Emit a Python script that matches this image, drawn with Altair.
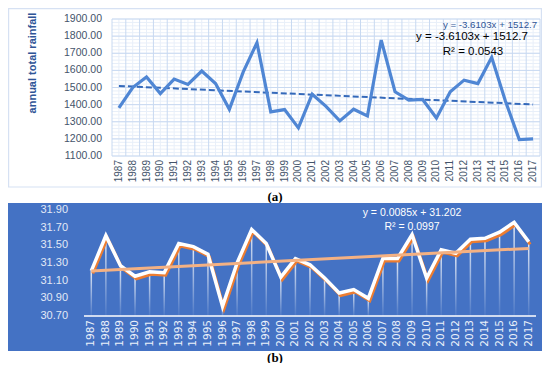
import altair as alt
import pandas as pd

years = list(range(1987, 2018))
rainfall = [1381, 1500, 1562, 1465, 1549, 1518, 1596, 1523, 1373, 1590, 1761,
            1358, 1371, 1264, 1461, 1390, 1305, 1373, 1334, 1777, 1475, 1426,
            1430, 1322, 1475, 1543, 1523, 1676, 1420, 1196, 1200]
temperature = [31.21, 31.61, 31.27, 31.15, 31.20, 31.19, 31.52, 31.485, 31.40,
               30.81, 31.30, 31.68, 31.52, 31.14, 31.35, 31.28, 31.13, 30.96,
               31.00, 30.90, 31.35, 31.35, 31.62, 31.13, 31.45, 31.41, 31.57,
               31.58, 31.65, 31.76, 31.54]
trend_years = [1987, 2017]
trend_a = [1509.09, 1400.78]   # y = -3.6103x + 1512.7 at x=1 and x=31
trend_b = [31.2105, 31.4655]   # y = 0.0085x + 31.202 at x=1 and x=31
rain_ticks = list(range(1100, 1901, 100))
rain_minor = list(range(1100, 1901, 20))
temp_ticks = [30.7, 30.9, 31.1, 31.3, 31.5, 31.7, 31.9]

X0, X1 = 1986.5, 2017.5
band_edges = [y - 0.5 for y in years] + [years[-1] + 0.5]

df = pd.DataFrame({"year": years, "rain": rainfall, "temp": temperature})
dtrend_a = pd.DataFrame({"year": trend_years, "v": trend_a})
dtrend_b = pd.DataFrame({"year": trend_years, "v": trend_b})
d_hmajor = pd.DataFrame({"v": rain_ticks})
d_hminor = pd.DataFrame({"v": rain_minor})
d_vmajor = pd.DataFrame({"v": band_edges})
d_vminor = pd.DataFrame({"v": years})
d_tticks = pd.DataFrame({"v": temp_ticks})
one = alt.Data(values=[{}])

FONT = "Liberation Sans"
LAB = "#44546A"
MAJOR = "#C8D9F1"
MINOR = "#E8EFF9"

W, H = 534, 355          # whole drawing, view origin = page (8, 8)

# ---------------- panel (a) ----------------
xs_a = alt.Scale(domain=[X0, X1], nice=False, zero=False, range=[104, 532])
ys_a = alt.Scale(domain=[1100, 1900], nice=False, zero=False, range=[148, 11])

frame_a = alt.Chart(one).mark_rect(fill=None, stroke="#D6E1F3",
                                   strokeWidth=1.2).encode(
    x=alt.value(0.6), x2=alt.value(533.4), y=alt.value(0.6), y2=alt.value(179))

g_hminor = alt.Chart(d_hminor).mark_rule(color=MINOR, strokeWidth=1).encode(
    y=alt.Y("v:Q", scale=ys_a, axis=None),
    x=alt.X(datum=X0, scale=xs_a, axis=None), x2=alt.datum(X1))
g_vminor = alt.Chart(d_vminor).mark_rule(color=MINOR, strokeWidth=1).encode(
    x=alt.X("v:Q", scale=xs_a, axis=None),
    y=alt.Y(datum=1100, scale=ys_a, axis=None), y2=alt.datum(1900))
g_hmajor = alt.Chart(d_hmajor).mark_rule(color=MAJOR, strokeWidth=1).encode(
    y=alt.Y("v:Q", scale=ys_a, axis=None),
    x=alt.X(datum=X0, scale=xs_a, axis=None), x2=alt.datum(X1))
g_vmajor = alt.Chart(d_vmajor).mark_rule(color=MAJOR, strokeWidth=1).encode(
    x=alt.X("v:Q", scale=xs_a, axis=None),
    y=alt.Y(datum=1100, scale=ys_a, axis=None), y2=alt.datum(1900))

tr_a = alt.Chart(dtrend_a).mark_line(color="#3469BA", strokeWidth=2,
                                     strokeDash=[6, 3]).encode(
    x=alt.X("year:Q", scale=xs_a, axis=None),
    y=alt.Y("v:Q", scale=ys_a, axis=None))
line_a = alt.Chart(df).mark_line(color="#4F86D4", strokeWidth=3.2).encode(
    x=alt.X("year:Q", scale=xs_a, axis=None),
    y=alt.Y("rain:Q", scale=ys_a, axis=None))

ylab_a = alt.Chart(d_hmajor).mark_text(font=FONT, fontSize=10.5, color=LAB,
                                       align="right", baseline="middle").encode(
    y=alt.Y("v:Q", scale=ys_a, axis=None), x=alt.value(94),
    text=alt.Text("v:Q", format=".2f"))
xlab_a = alt.Chart(df).mark_text(font=FONT, fontSize=10, color=LAB, angle=270,
                                 align="right", baseline="middle").encode(
    x=alt.X("year:Q", scale=xs_a, axis=None), y=alt.value(152),
    text=alt.Text("year:Q", format="d"))
ytitle_a = alt.Chart(one).mark_text(font=FONT, fontSize=11, fontWeight="bold",
                                    color="#2F5597", angle=270,
                                    baseline="middle").encode(
    x=alt.value(25), y=alt.value(55), text=alt.value("annual total rainfall"))

txt_a1 = alt.Chart(one).mark_text(font=FONT, fontSize=9.7, color="#2F5597").encode(
    x=alt.value(482), y=alt.value(17), text=alt.value("y = -3.6103x + 1512.7"))
txt_a2 = alt.Chart(one).mark_text(font=FONT, fontSize=11.5, color="black").encode(
    x=alt.value(464), y=alt.value(29), text=alt.value("y = -3.6103x + 1512.7"))
txt_a3 = alt.Chart(one).mark_text(font=FONT, fontSize=11.5, color="black").encode(
    x=alt.value(465), y=alt.value(44), text=alt.value("R² = 0.0543"))
lab_a = alt.Chart(one).mark_text(font="Liberation Serif", fontSize=13,
                                 fontWeight="bold", color="black",
                                 baseline="middle").encode(
    x=alt.value(267), y=alt.value(189), text=alt.value("(a)"))

panel_a = alt.layer(frame_a, g_hminor, g_vminor, g_hmajor, g_vmajor, tr_a,
                    line_a, ylab_a, xlab_a, ytitle_a, txt_a1, txt_a2, txt_a3,
                    lab_a)

# ---------------- panel (b) ----------------
xs_b = alt.Scale(domain=[X0, X1], nice=False, zero=False, range=[71, 533])
ys_b = alt.Scale(domain=[30.7, 31.9], nice=False, zero=False, range=[308, 202])

bg_b = alt.Chart(one).mark_rect(fill="#4472C4").encode(
    x=alt.value(0), x2=alt.value(534), y=alt.value(195), y2=alt.value(343))

grad = alt.LinearGradient(
    gradient="linear", x1=0, x2=0, y1=0, y2=1,
    stops=[alt.GradientStop(color="rgba(255,255,255,0.85)", offset=0),
           alt.GradientStop(color="rgba(255,255,255,0.05)", offset=1)])

drops = alt.Chart(df).mark_bar(size=1.5, color=grad).encode(
    x=alt.X("year:Q", scale=xs_b, axis=None),
    y=alt.Y("temp:Q", scale=ys_b, axis=None),
    y2=alt.datum(30.7),
)
baseline_b = alt.Chart(one).mark_rule(color="white", strokeWidth=1.5).encode(
    x=alt.X(datum=X0, scale=xs_b, axis=None), x2=alt.datum(X1),
    y=alt.Y(datum=30.7, scale=ys_b, axis=None))
orange = alt.Chart(df).mark_line(color="#ED7D31", strokeWidth=3,
                                 xOffset=1.5, yOffset=2.5).encode(
    x=alt.X("year:Q", scale=xs_b, axis=None),
    y=alt.Y("temp:Q", scale=ys_b, axis=None))
white = alt.Chart(df).mark_line(color="white", strokeWidth=3.5).encode(
    x=alt.X("year:Q", scale=xs_b, axis=None),
    y=alt.Y("temp:Q", scale=ys_b, axis=None))
tr_b = alt.Chart(dtrend_b).mark_line(color="#F4B183", strokeWidth=3).encode(
    x=alt.X("year:Q", scale=xs_b, axis=None),
    y=alt.Y("v:Q", scale=ys_b, axis=None))

ylab_b = alt.Chart(d_tticks).mark_text(font=FONT, fontSize=11, color="#E2E9F6",
                                       align="right", baseline="middle").encode(
    y=alt.Y("v:Q", scale=ys_b, axis=None), x=alt.value(60),
    text=alt.Text("v:Q", format=".2f"))
xlab_b = alt.Chart(df).mark_text(font="DejaVu Sans", fontSize=10.5,
                                 color="#EAF0FA", angle=270, align="right",
                                 baseline="middle").encode(
    x=alt.X("year:Q", scale=xs_b, axis=None), y=alt.value(312),
    text=alt.Text("year:Q", format="d"))

txt_b1 = alt.Chart(one).mark_text(font=FONT, fontSize=10.5, color="white").encode(
    x=alt.value(404), y=alt.value(205), text=alt.value("y = 0.0085x + 31.202"))
txt_b2 = alt.Chart(one).mark_text(font=FONT, fontSize=10.5, color="white").encode(
    x=alt.value(404), y=alt.value(219), text=alt.value("R² = 0.0997"))
lab_b = alt.Chart(one).mark_text(font="Liberation Serif", fontSize=13,
                                 fontWeight="bold", color="black",
                                 baseline="middle").encode(
    x=alt.value(267), y=alt.value(349.5), text=alt.value("(b)"))

panel_b = alt.layer(bg_b, drops, baseline_b, orange, white, tr_b, ylab_b,
                    xlab_b, txt_b1, txt_b2, lab_b)

chart = alt.layer(panel_a, panel_b).resolve_scale(
    x="independent", y="independent").properties(
    width=W, height=H, padding=0, background="white",
    autosize=alt.AutoSizeParams(type="none")).configure_view(stroke=None)

chart.save("out.html", embed_options={"renderer": "svg", "actions": False})
